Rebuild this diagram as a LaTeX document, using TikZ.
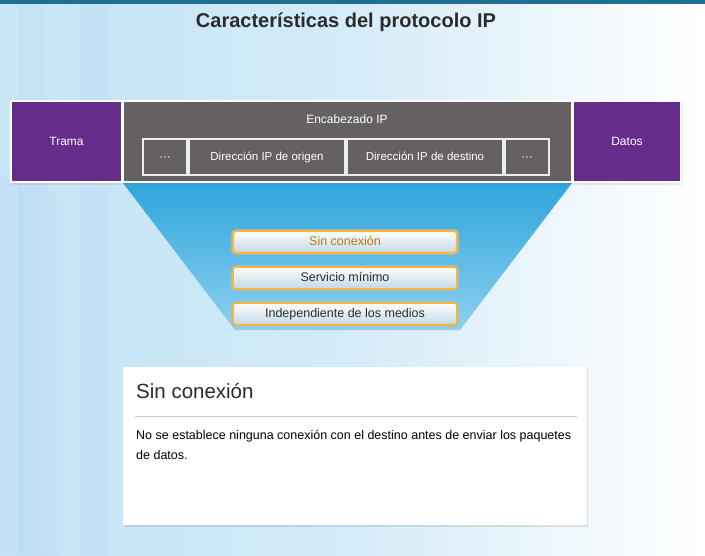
\documentclass[tikz,border=0pt]{standalone}
\usepackage{fontspec}
\setmainfont{Liberation Sans}
\usetikzlibrary{positioning,shadows,calc}
\definecolor{ippurple}{HTML}{652D89}
\definecolor{ipgray}{HTML}{656162}
\definecolor{topbar}{HTML}{1F6E94}
\definecolor{bgblue}{HTML}{C2E3F5}
\definecolor{funneltop}{HTML}{2FA5DC}
\definecolor{funnelbot}{HTML}{8DD0EE}
\definecolor{btnorange}{HTML}{F7B53A}
\definecolor{btnblue}{HTML}{C3D8E4}
\definecolor{seltext}{HTML}{B27A0E}
\definecolor{darktext}{HTML}{2B2B2B}

\tikzset{
  block/.style={draw=white,line width=1.2pt,text=white,inner sep=0pt,
    font=\fontsize{12}{14}\selectfont},
  campo/.style={draw=white!85!gray,line width=1.5pt,fill=ipgray,text=white,
    minimum height=36,inner sep=0pt,text height=8.5,text depth=2.5,
    font=\fontsize{11.5}{13}\selectfont},
  boton/.style={rounded corners=3pt,top color=white,bottom color=btnblue,
    draw=btnorange,line width=1.6pt,minimum width=224,minimum height=22,
    inner sep=0pt,text height=9,text depth=2.5,text=darktext,
    font=\fontsize{12.5}{14}\selectfont,
    preaction={draw=gray!55,line width=3.4pt}},
}

\begin{document}
\begin{tikzpicture}[x=1pt,y=-1pt]
		\useasboundingbox (0,0) rectangle (705,555);
		% fondo
		\shade[left color=bgblue,right color=white,middle color=bgblue!70] (0,0) rectangle (705,555);
		\fill[white,opacity=0.12] (0,0) rectangle (18,555);
		\fill[white,opacity=0.08] (45,0) rectangle (60,555);
		\fill[bgblue!80!blue,opacity=0.06] (80,0) rectangle (110,555);
		\fill[bgblue!85!blue,opacity=0.12,rounded corners=40pt] (-40,175) rectangle (60,600);
		\fill[topbar] (0,0) rectangle (705,4);
		\node[text=darktext,font=\bfseries\fontsize{20}{23}\selectfont] (title) at (346,22) {Características del protocolo IP};

		% embudo
		\shade[top color=funneltop,bottom color=funnelbot] (123,183) -- (572,183) -- (460,330) -- (235,330) -- cycle;

		% cabecera
		\fill[white,drop shadow={opacity=0.15,shadow xshift=1pt,shadow yshift=-1.5pt}] (10,100) rectangle (682,183);
		\node[block,fill=ippurple,minimum width=111,minimum height=81] (trama) at (66.5,141.5) {Trama};
		\node[block,fill=ipgray,minimum width=449,minimum height=81] (encab) at (347.5,141.5) {};
		\node[block,fill=ippurple,minimum width=108,minimum height=81] (datos) at (627,141.5) {Datos};
		\node[text=white,font=\fontsize{12}{14}\selectfont] (encabtxt) at (347,119) {Encabezado IP};
		\node[campo,minimum width=44] (puntosA) at (165,157) {···};
		\node[campo,minimum width=156] (origen) at (267,157) {Dirección IP de origen};
		\node[campo,minimum width=156] (destino) at (425,157) {Dirección IP de destino};
		\node[campo,minimum width=44] (puntosB) at (527,157) {···};

		% botones
		\node[boton,text=seltext,line width=2.2pt] (btnSin) at (345,242) {Sin conexión};
		\node[boton] (btnServ) at (345,278) {Servicio mínimo};
		\node[boton] (btnIndep) at (345,314) {Independiente de los medios};

		% cuadro de descripcion
		\node[fill=white,minimum width=464,minimum height=158,inner sep=0pt,
		  drop shadow={opacity=0.2,shadow xshift=1pt,shadow yshift=-2pt}] (info) at (355,446) {};
		\node[anchor=west,inner sep=0pt,text=darktext,font=\fontsize{20.5}{24}\selectfont] (infoTitle) at (136,391) {Sin conexión};
		\draw[gray!40,line width=1pt] (135,416) -- (577,416);
		\node[anchor=north west,inner sep=0pt,align=left,text=black,
		  font=\fontsize{12.5}{20}\selectfont] (infoText) at (136,430)
		  {No se establece ninguna conexión con el destino antes de enviar los paquetes\\de datos.};
	\end{tikzpicture}
\end{document}
